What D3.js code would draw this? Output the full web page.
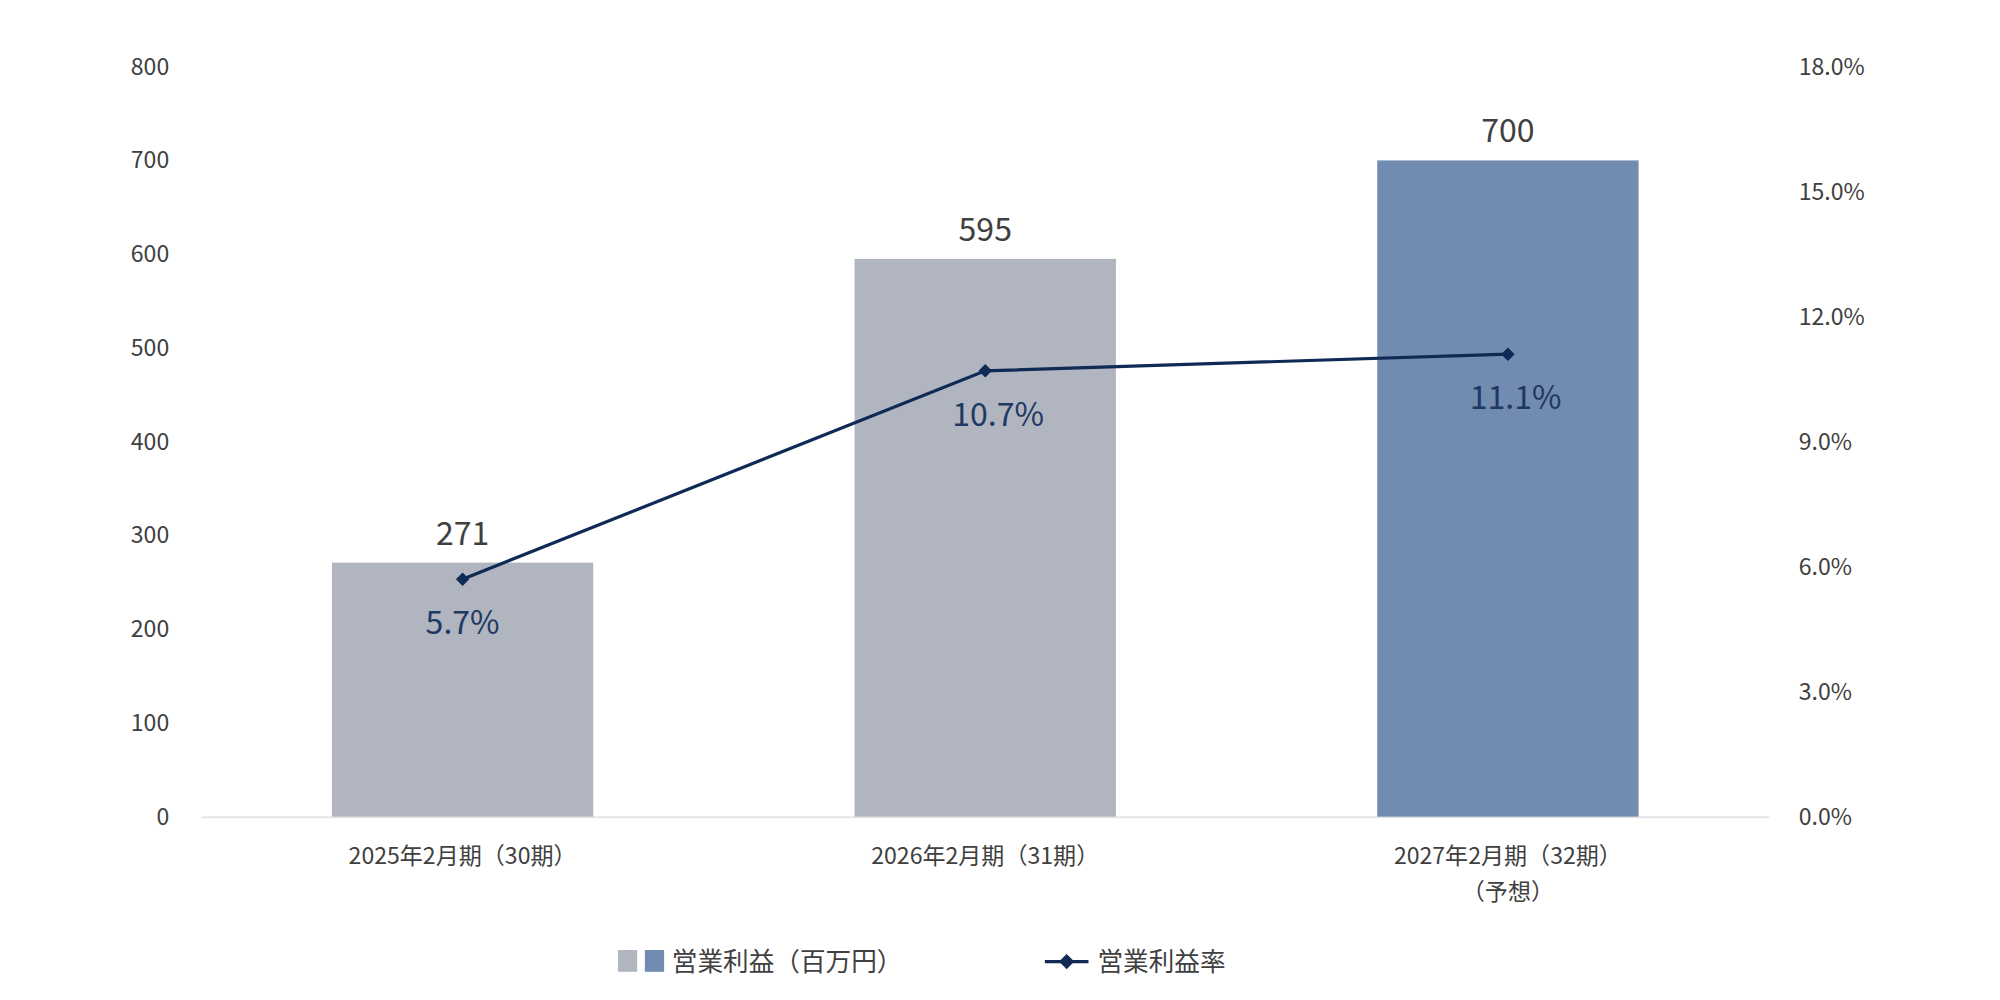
<!DOCTYPE html>
<meta charset="utf-8">
<style>
body { margin: 0; background: #fff; }
text { font-family: "Noto Sans CJK JP", "Noto Sans", sans-serif; fill: #404040; }
</style>
<svg width="2000" height="1000" viewBox="0 0 1560 780"></svg>
<script src="https://d3js.org/d3.v7.min.js"></script>
<script>
var categories = [["2025年2月期（30期）"], ["2026年2月期（31期）"], ["2027年2月期（32期）", "（予想）"]];
var profit = [271, 595, 700];
var margin = [5.7, 10.7, 11.1];
var barColors = ["#b0b5bf", "#b0b5bf", "#718bb1"];
var leftTicks = [0, 100, 200, 300, 400, 500, 600, 700, 800];
var rightTicks = [0, 3, 6, 9, 12, 15, 18];

var svg = d3.select("svg");
var x = d3.scaleBand().domain(d3.range(3)).range([157, 1380]).paddingInner(0.5).paddingOuter(0.25);
var y = d3.scaleLinear().domain([0, 800]).range([637, 52]);
var y2 = d3.scaleLinear().domain([0, 18]).range([637, 52]);

svg.append("line").attr("x1", 157).attr("x2", 1380).attr("y1", 637.5).attr("y2", 637.5)
  .attr("stroke", "#e6e6e6").attr("stroke-width", 1.5);

svg.selectAll(".lt").data(leftTicks).enter().append("text")
  .attr("x", 132).attr("y", function(d){return y(d);}).attr("dy", "0.35em")
  .attr("text-anchor", "end").attr("font-size", 18).text(function(d){return d;});
svg.selectAll(".rt").data(rightTicks).enter().append("text")
  .attr("x", 1403).attr("y", function(d){return y2(d);}).attr("dy", "0.35em")
  .attr("font-size", 18).text(function(d){return d.toFixed(1) + "%";});

svg.selectAll(".bar").data(profit).enter().append("rect")
  .attr("x", function(d,i){return x(i);}).attr("width", x.bandwidth())
  .attr("y", function(d){return y(d);}).attr("height", function(d){return y(0) - y(d);})
  .attr("fill", function(d,i){return barColors[i];});

svg.selectAll(".bl").data(profit).enter().append("text")
  .attr("x", function(d,i){return x(i) + x.bandwidth()/2;}).attr("y", function(d){return y(d) - 14;})
  .attr("text-anchor", "middle").attr("font-size", 25).text(function(d){return d;});

var cx = function(i){return x(i) + x.bandwidth()/2;};
svg.append("path").datum(margin)
  .attr("d", d3.line().x(function(d,i){return cx(i);}).y(function(d){return y2(d);}))
  .attr("fill", "none").attr("stroke", "#0e2a55").attr("stroke-width", 2.5);
svg.selectAll(".pt").data(margin).enter().append("path")
  .attr("d", d3.symbol(d3.symbolDiamond2, 70))
  .attr("transform", function(d,i){return "translate(" + cx(i) + "," + y2(d) + ")";})
  .attr("fill", "#0e2a55");
svg.selectAll(".ml").data(margin).enter().append("text")
  .attr("x", function(d,i){return cx(i) + (i === 2 ? 6 : 10) * (i ? 1 : 0);}).attr("y", function(d){return y2(d) + 43;})
  .attr("text-anchor", "middle").attr("font-size", 25).style("fill", "#1f3864")
  .text(function(d){return d.toFixed(1) + "%";});

categories.forEach(function(lines, i){
  lines.forEach(function(t, j){
    svg.append("text").attr("x", cx(i)).attr("y", 674 + j * 28)
      .attr("text-anchor", "middle").attr("font-size", 18).text(t);
  });
});

var lg = svg.append("g");
lg.append("rect").attr("x", 482).attr("y", 741).attr("width", 15).attr("height", 17).attr("fill", barColors[0]);
lg.append("rect").attr("x", 503).attr("y", 741).attr("width", 15).attr("height", 17).attr("fill", barColors[2]);
lg.append("text").attr("x", 524).attr("y", 750).attr("dy", "0.35em").attr("font-size", 20).text("営業利益（百万円）");
lg.append("line").attr("x1", 815).attr("x2", 849).attr("y1", 750).attr("y2", 750).attr("stroke", "#0e2a55").attr("stroke-width", 2.5);
lg.append("path").attr("d", d3.symbol(d3.symbolDiamond2, 90)).attr("transform", "translate(832,750)").attr("fill", "#0e2a55");
lg.append("text").attr("x", 856).attr("y", 750).attr("dy", "0.35em").attr("font-size", 20).text("営業利益率");
</script>
